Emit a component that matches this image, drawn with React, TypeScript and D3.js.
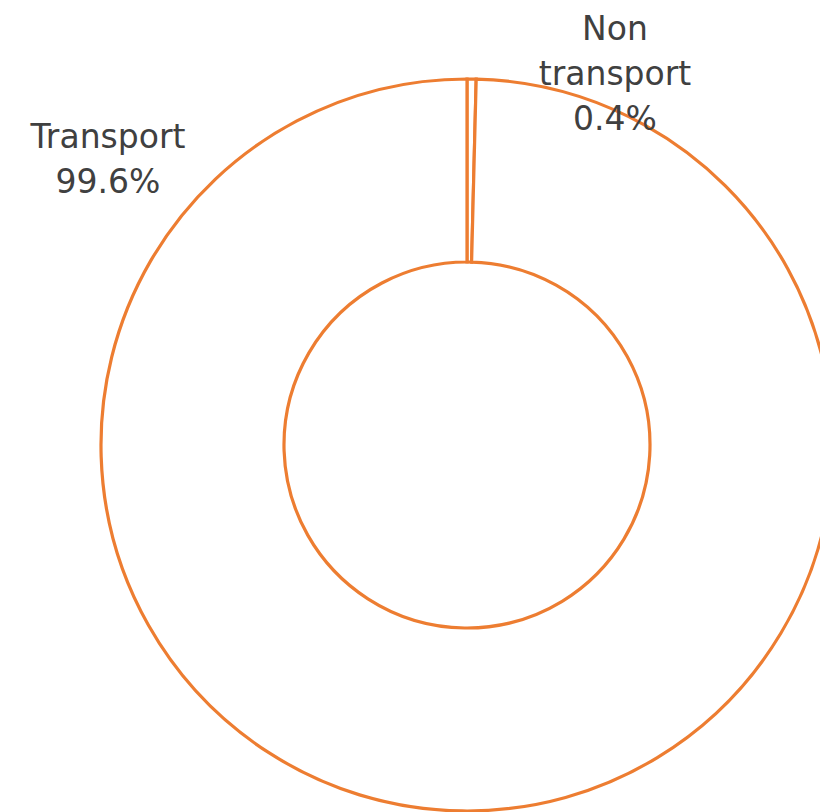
import React from "react";
import * as d3 from "d3";

const categories = ["Transport", "Non transport"];
const values = [99.6, 0.4];
const labels = [["Transport", "99.6%"], ["Non", "transport", "0.4%"]];

const W = 820, H = 812;
const cx = 467, cy = 445;
const outerR = 366, innerR = 183;
const labelPos = [
  { x: 108, y: 148 },
  { x: 615, y: 40 },
];

export default function App() {
  const pie = d3
    .pie<number>()
    .sort(null)
    .value((d) => d);
  // Non transport starts at 12 o'clock going clockwise; Transport fills the rest
  const ordered = [values[1], values[0]];
  const arcs = pie(ordered);
  const arc = d3.arc<d3.PieArcDatum<number>>().innerRadius(innerR).outerRadius(outerR);
  return (
    <svg width={W} height={H} style={{ position: "absolute", left: 0, top: 0 }}>
      <rect width={W} height={H} fill="#fff" />
      <g transform={`translate(${cx},${cy})`}>
        {arcs.map((a, i) => (
          <path key={i} d={arc(a) || ""} fill="#fff" stroke="#ED7D31" strokeWidth={3.2} strokeLinejoin="miter" />
        ))}
      </g>
      {labels.map((lines, i) => (
        <text key={categories[i]} x={labelPos[i].x} y={labelPos[i].y} textAnchor="middle" fill="#404040" fontFamily="'DejaVu Sans', sans-serif" fontSize={33} fontWeight={400}>
          {lines.map((l, j) => (
            <tspan key={j} x={labelPos[i].x} dy={j === 0 ? 0 : 45}>{l}</tspan>
          ))}
        </text>
      ))}
    </svg>
  );
}
